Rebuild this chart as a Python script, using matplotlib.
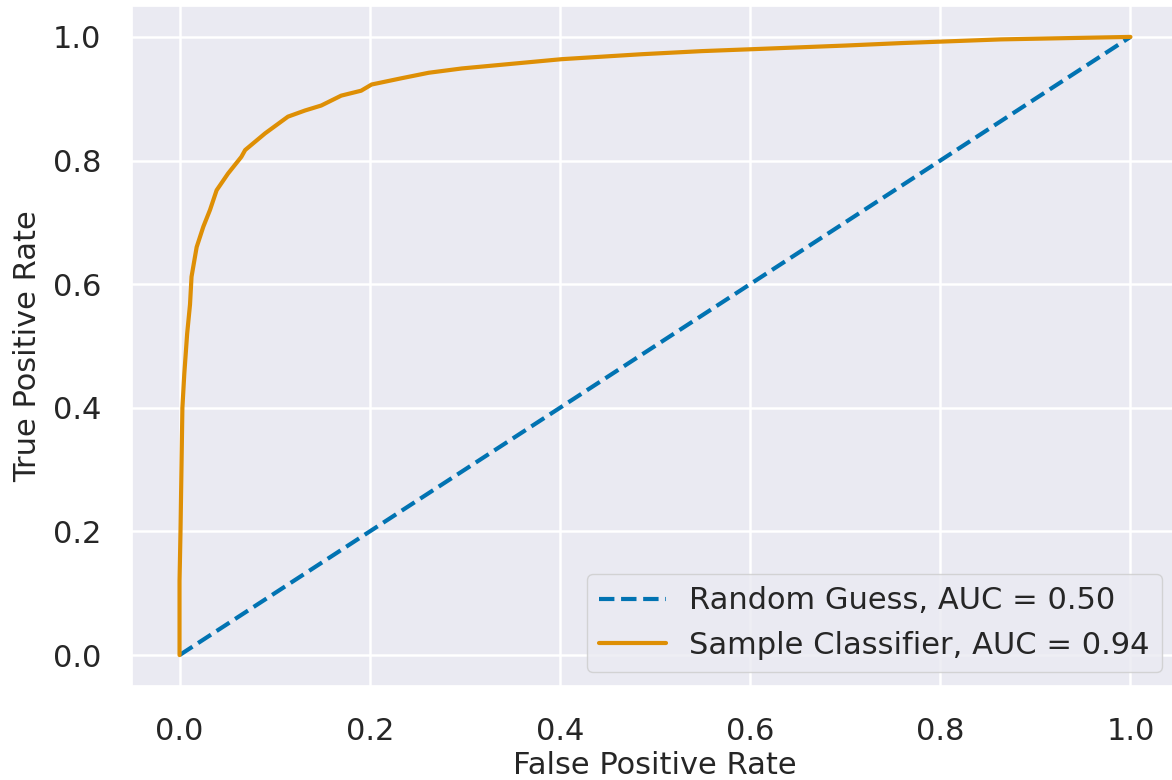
import numpy as np
import matplotlib
matplotlib.use('Agg')
import matplotlib.pyplot as plt
import seaborn as sns

# ROC points
fpr = [0.0, 0.0, 0.001, 0.002, 0.003, 0.005, 0.008, 0.011, 0.0126, 0.018, 0.025,
       0.032, 0.039, 0.051, 0.065, 0.069, 0.090, 0.114, 0.132, 0.149, 0.170,
       0.191, 0.202, 0.233, 0.262, 0.297, 0.339, 0.402, 0.486, 0.549, 0.60,
       0.70, 0.759, 0.864, 1.0]
tpr = [0.0, 0.12, 0.20, 0.30, 0.40, 0.455, 0.52, 0.567, 0.612, 0.660, 0.693,
       0.720, 0.752, 0.779, 0.806, 0.817, 0.844, 0.871, 0.881, 0.889, 0.905,
       0.913, 0.923, 0.933, 0.942, 0.949, 0.955, 0.964, 0.972, 0.977, 0.980,
       0.986, 0.990, 0.996, 1.0]
guess = [0.0, 1.0]
labels = ['Random Guess, AUC = 0.50', 'Sample Classifier, AUC = 0.94']

sns.set_theme(style='darkgrid')
colors = sns.color_palette('colorblind')

fig = plt.figure(figsize=(11.72, 7.8), dpi=100)
ax = fig.add_axes([132 / 1172, 94 / 780, 1046 / 1172, 680 / 780])

ax.plot(guess, guess, '--', color=colors[0], linewidth=3.0, label=labels[0])
ax.plot(fpr, tpr, color=colors[1], linewidth=3.0, label=labels[1])

ax.set_xlim(-0.05, 1.05)
ax.set_ylim(-0.05, 1.05)
ax.set_xticks(np.arange(0, 1.01, 0.2))
ax.set_yticks(np.arange(0, 1.01, 0.2))
ax.tick_params(labelsize=22, pad=16, colors='#262626')
ax.grid(True, color='white', linewidth=1.8)
ax.set_xlabel('False Positive Rate', fontsize=22, color='#262626', labelpad=4)
ax.set_ylabel('True Positive Rate', fontsize=22, color='#262626', labelpad=8)

leg = ax.legend(loc='lower right', fontsize=22, bbox_to_anchor=(0.9847, 0.0206),
                borderaxespad=0, handlelength=2.2, handletextpad=0.75)

fig.savefig('out.png', dpi=100)
